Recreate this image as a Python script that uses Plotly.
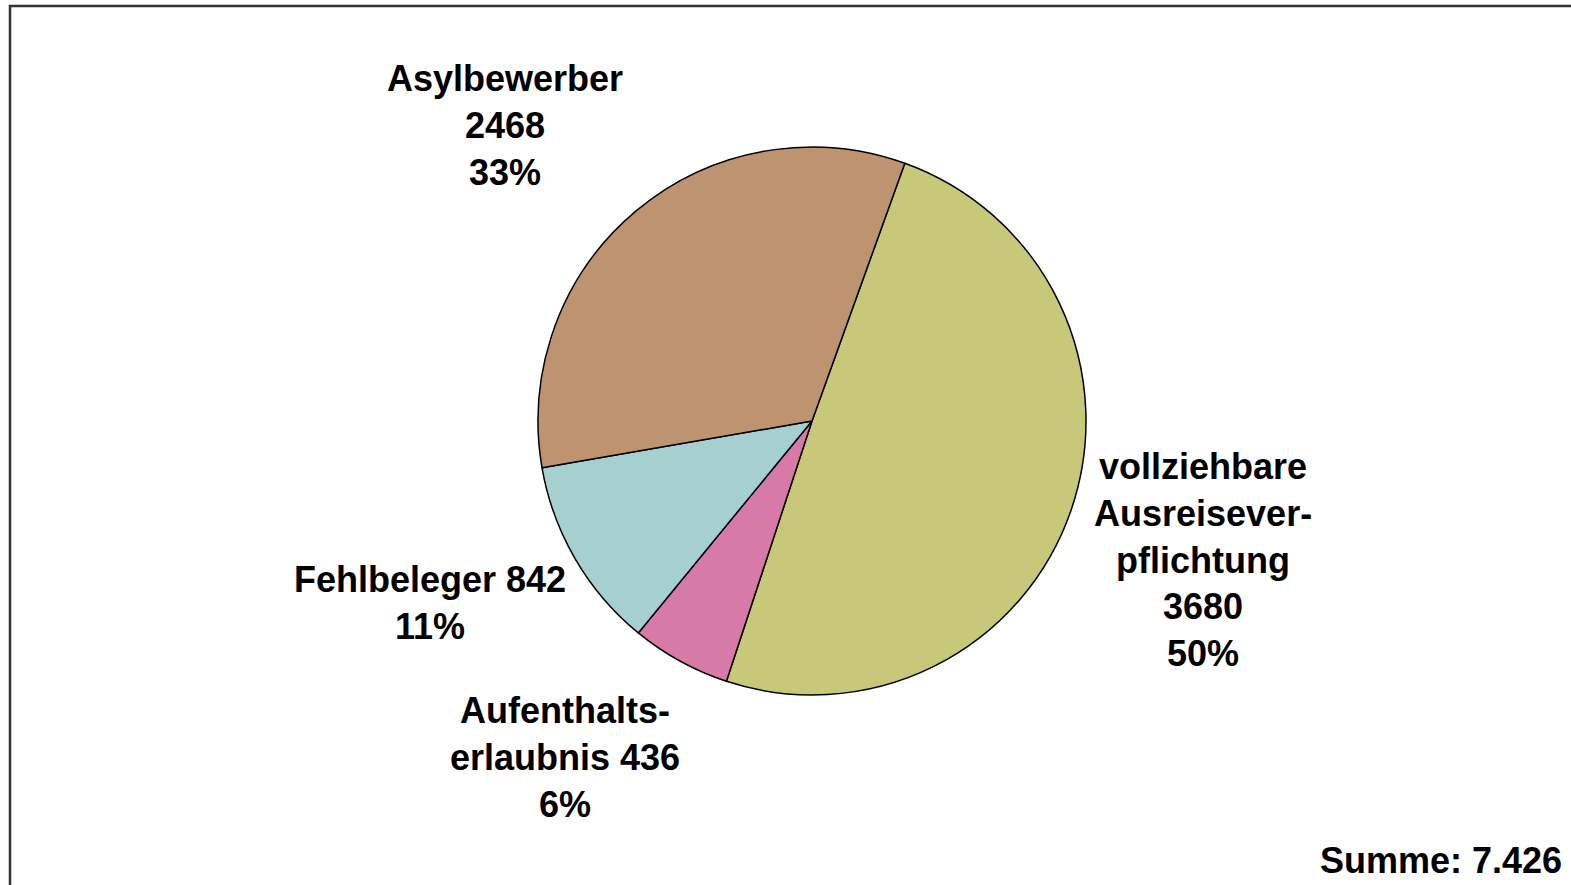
import plotly.graph_objects as go

labels = ["vollziehbare Ausreiseverpflichtung", "Aufenthaltserlaubnis", "Fehlbeleger", "Asylbewerber"]
values = [3680, 436, 842, 2468]
label_lines = [
    ["vollziehbare", "Ausreisever-", "pflichtung", "{v}", "{p}%"],
    ["Aufenthalts-", "erlaubnis {v}", "{p}%"],
    ["Fehlbeleger {v}", "{p}%"],
    ["Asylbewerber", "{v}", "{p}%"],
]
colors = ["#c8c87a", "#d77aa8", "#a6d0d0", "#bd946f"]
total = sum(values)
total_text = "Summe: " + f"{total:,}".replace(",", ".")

W, H = 1571, 885
def px(x):
    return x / W
def py(y):
    return 1 - y / H

# label block centres in pixels (layout)
label_pos = [(1203, 560), (565, 757), (430, 603), (505, 125)]
cx, cy, r = 812, 421, 274

fig = go.Figure(go.Pie(
    labels=labels, values=values, sort=False, direction="clockwise",
    rotation=19.8, textinfo="none", hoverinfo="label+value+percent",
    marker=dict(colors=colors, line=dict(color="black", width=1.5)),
    domain=dict(x=[px(cx - r), px(cx + r)], y=[py(cy + r), py(cy - r)]),
    showlegend=False,
))

font = dict(family="Arial, Liberation Sans, sans-serif", size=36, color="black", weight="bold")
annotations = []
for lines, v, (lx, ly) in zip(label_lines, values, label_pos):
    p = round(v / total * 100)
    txt = "<br>".join(l.format(v=v, p=p) for l in lines)
    annotations.append(dict(text=txt, x=px(lx), y=py(ly), xref="paper", yref="paper",
                            xanchor="center", yanchor="middle", showarrow=False, font=font, align="center"))
annotations.append(dict(text=total_text, x=px(1564), y=py(860), xref="paper", yref="paper",
                        xanchor="right", yanchor="middle", showarrow=False, font=font))

fig.update_layout(
    width=W, height=H, margin=dict(l=0, r=0, t=0, b=0),
    paper_bgcolor="white", plot_bgcolor="white",
    annotations=annotations,
    shapes=[dict(type="rect", xref="paper", yref="paper", x0=px(10), y0=-0.05, x1=1.05, y1=py(6),
                 line=dict(color="#333333", width=2.5))],
)
fig.write_html("out.html", config={"displayModeBar": False},
               post_script="document.body.style.margin='0px';document.body.style.overflow='hidden';")
